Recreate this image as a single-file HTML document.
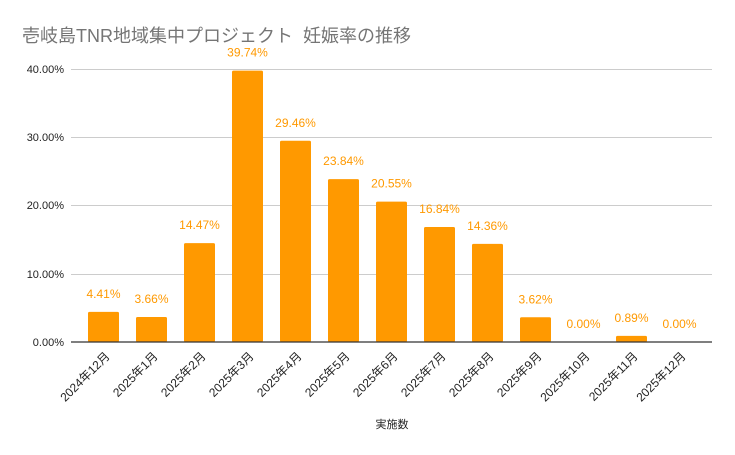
<!DOCTYPE html>
<html><head><meta charset="utf-8"><style>
body{margin:0;background:#fff}
svg{display:block;font-family:"Liberation Sans","Noto Sans CJK JP",sans-serif}
</style></head><body>
<svg width="735" height="455" viewBox="0 0 735 455" xmlns="http://www.w3.org/2000/svg">
<rect width="735" height="455" fill="#fff"/>
<text x="22" y="42" font-size="18" fill="#757575">壱岐島TNR地域集中プロジェクト&#160;&#160;妊娠率の推移</text>
<g stroke="#cccccc" stroke-width="1">
<line x1="71" x2="712" y1="69.5" y2="69.5"/>
<line x1="71" x2="712" y1="137.5" y2="137.5"/>
<line x1="71" x2="712" y1="205.5" y2="205.5"/>
<line x1="71" x2="712" y1="274.5" y2="274.5"/>
</g>
<g font-size="11" fill="#222" text-anchor="end">
<text x="64" y="73">40.00%</text>
<text x="64" y="141">30.00%</text>
<text x="64" y="209">20.00%</text>
<text x="64" y="278">10.00%</text>
<text x="64" y="346">0.00%</text>
</g>
<g id="bars" fill="#ff9900"></g>
<g id="vals" font-size="12" fill="#ff9900" text-anchor="middle"></g>
<g id="xl" font-size="12" fill="#222" text-anchor="end"></g>
<line x1="71" x2="712" y1="342" y2="342" stroke="#333" stroke-width="1.2"/>
<text x="392" y="428" font-size="11" fill="#222" text-anchor="middle">実施数</text>
</svg>
<script>
var v=[4.41,3.66,14.47,39.74,29.46,23.84,20.55,16.84,14.36,3.62,0,0.89,0];
var l=["2024年12月","2025年1月","2025年2月","2025年3月","2025年4月","2025年5月","2025年6月","2025年7月","2025年8月","2025年9月","2025年10月","2025年11月","2025年12月"];
var ns="http://www.w3.org/2000/svg";
function el(t,a,p,txt){var e=document.createElementNS(ns,t);for(var k in a)e.setAttribute(k,a[k]);if(txt!=null)e.textContent=txt;document.getElementById(p).appendChild(e);}
for(var i=0;i<13;i++){
 var cx=103.5+48*i,h=v[i]*6.83,y=342-h;
 if(h>0)el("rect",{x:cx-15.5,y:y,width:31,height:h,rx:1.5},"bars");
 el("text",{x:cx,y:y-14},"vals",v[i].toFixed(2)+"%");
 el("text",{x:cx+7,y:357,transform:"rotate(-45 "+(cx+7)+" 357)"},"xl",l[i]);
}
</script>
</body></html>
